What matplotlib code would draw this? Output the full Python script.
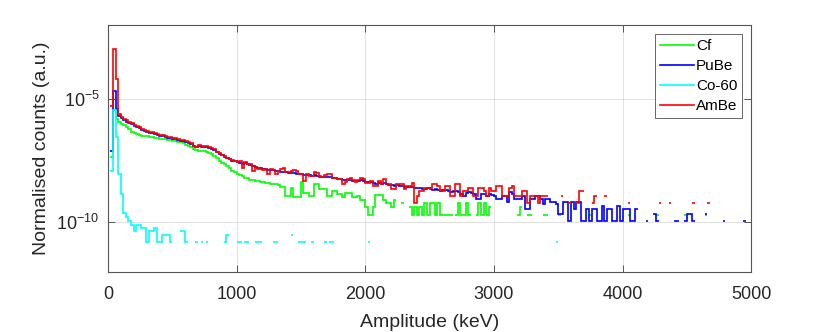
import numpy as np
import matplotlib
matplotlib.use('Agg')
import matplotlib.pyplot as plt

nan = np.nan

# amplitude bins (keV), 20 keV wide
bin_edges = np.arange(0, 5001, 20)

# log10 of normalised counts per bin, nan = empty bin
cf_log = [
    nan, -7.37, -5.46, -5.8, -5.94, -6.0, -6.08, -6.15, -6.24, -6.33,
    -6.4, -6.44, -6.46, -6.49, -6.5, -6.52, -6.54, -6.56, -6.57, -6.59,
    -6.61, -6.63, -6.64, -6.66, -6.68, -6.7, -6.72, -6.74, -6.76, -6.78,
    -6.85, -6.9, -6.96, -7.02, -7.08, -7.11, -7.12, -7.13, -7.15, -7.2,
    -7.22, -7.3, -7.38, -7.52, -7.6, -7.65, -7.72, -7.8, -7.92, -7.98,
    -8.05, -8.08, -8.12, -8.19, -8.19, -8.28, -8.3, -8.32, -8.32, -8.36,
    -8.36, -8.42, -8.42, -8.46, -8.46, -8.46, -8.48, -8.55, -8.55, -8.93,
    -8.93, -8.59, -8.99, -8.99, -8.99, -8.36, -8.79, -8.79, -8.93, -8.93,
    -8.46, -8.46, -8.66, -8.66, -8.66, -8.93, -8.93, -8.73, -8.73, -8.86,
    -8.86, -8.99, -8.79, -8.79, -8.79, -8.99, -8.99, -8.93, -9.08, -9.08,
    -9.38, -9.68, -9.68, -9.38, -8.9, -8.9, -8.9, -9.08, -9.2, -9.2,
    -9.38, -9.08, nan, nan, -9.2, nan, nan, -9.38, -9.68, -9.38,
    -9.68, -9.38, -9.68, -9.2, -9.68, -9.2, -9.2, -9.68, -9.2, -9.68,
    -9.68, -9.68, -9.68, -9.68, nan, -9.68, -9.2, -9.68, -9.68, -9.2,
    -9.68, nan, nan, -9.68, -9.2, -9.68, -9.2, -9.68, -9.38, nan,
    nan, nan, nan, nan, nan, nan, nan, nan, nan, -9.68,
    -9.38, nan, nan, -9.68, -9.68, nan, nan, nan, nan, -9.68,
    -9.68, nan, nan, nan, nan, -9.68, nan, nan, nan, nan,
    nan, nan, nan, nan, nan, nan, nan, -9.68, nan, nan,
    nan, nan, nan, nan, nan, nan, nan, nan, nan, nan,
    nan, nan, -9.68, nan, nan, nan, nan, nan, nan, nan,
    nan, nan, nan, -9.68, nan, nan, nan, nan, nan, nan,
    nan, nan, nan, nan, -9.68, nan, nan, nan, nan, nan,
    nan, nan, -9.68, nan, nan, nan, nan, nan, nan, nan,
    nan, nan, nan, nan, nan, nan, nan, nan, nan, nan,
]

pube_log = [
    nan, -7.1, -4.69, -5.43, -5.68, -5.78, -5.85, -5.92, -5.98, -6.04,
    -6.1, -6.15, -6.2, -6.25, -6.29, -6.33, -6.37, -6.4, -6.43, -6.46,
    -6.5, -6.52, -6.55, -6.57, -6.6, -6.62, -6.64, -6.66, -6.69, -6.72,
    -6.76, -6.79, -6.83, -6.9, -6.93, -6.91, -6.93, -6.95, -6.93, -6.98,
    -7.02, -7.08, -7.17, -7.23, -7.29, -7.35, -7.4, -7.45, -7.5, -7.53,
    -7.56, -7.58, -7.62, -7.6, -7.65, -7.68, -7.72, -7.74, -7.78, -7.8,
    -7.83, -7.84, -7.88, -7.88, -7.9, -7.93, -7.94, -7.95, -7.96, -7.98,
    -8.0, -8.0, -8.02, -8.03, -8.05, -8.06, -8.08, -8.08, -8.1, -8.12,
    -8.1, -8.13, -8.15, -8.16, -8.17, -8.15, -8.18, -8.2, -8.22, -8.23,
    -8.25, -8.27, -8.28, -8.28, -8.3, -8.31, -8.33, -8.32, -8.3, -8.34,
    -8.36, -8.38, -8.37, -8.42, -8.44, -8.4, -8.45, -8.42, -8.46, -8.48,
    -8.5, -8.52, -8.5, -8.52, -8.54, -8.56, -8.55, -8.58, -8.56, -8.6,
    -8.62, -8.6, -8.64, -8.66, -8.62, -8.66, -8.68, -8.64, -8.68, -8.72,
    -8.7, -8.68, -8.74, -8.76, -8.72, -8.74, -8.78, -8.86, -8.94, -8.8,
    -8.78, -8.82, -8.86, -9.04, -9.04, -8.86, -8.86, -8.94, -8.86, -8.9,
    -8.94, -9.04, -9.04, -8.94, -8.94, -9.16, -8.76, -8.86, -9.04, -9.04,
    -9.04, -8.94, -9.46, -9.46, -9.04, -9.04, -8.94, -8.94, -9.04, -9.24,
    -9.04, -9.04, -9.16, -9.16, -9.24, -9.64, -9.64, -9.16, -9.16, -9.94,
    -9.16, -9.46, -9.16, -9.16, -9.94, -9.94, -9.46, -9.94, -9.46, -9.46,
    -9.94, -9.94, -9.34, -9.94, -9.46, -9.46, -9.94, -9.94, -9.34, -9.94,
    -9.46, -9.46, -9.46, -9.94, -9.94, -9.46, nan, nan, nan, -9.94,
    nan, nan, -9.64, -9.94, nan, nan, nan, nan, nan, nan,
    -9.94, -9.94, nan, nan, -9.94, -9.64, -9.64, -9.94, nan, nan,
    nan, nan, -9.64, nan, nan, nan, nan, nan, nan, -9.94,
    nan, nan, nan, nan, nan, nan, nan, -9.94, nan, nan,
]

co60_log = [
    nan, -7.92, -5.46, -6.56, -8.05, -8.86, -9.6, -9.77, -9.94, -10.11,
    -10.33, -10.11, -10.11, -10.21, -10.21, -10.81, -10.33, -10.33, -10.21, -10.81,
    -10.81, -10.51, -10.51, -10.51, -10.81, nan, nan, nan, -10.33, -10.33,
    -10.81, nan, nan, nan, -10.81, nan, -10.81, nan, -10.81, nan,
    nan, nan, nan, nan, nan, -10.81, -10.51, nan, nan, nan,
    -10.81, -10.81, nan, -10.81, -10.81, nan, nan, -10.81, -10.81, -10.81,
    nan, nan, nan, nan, -10.81, -10.81, nan, nan, nan, nan,
    nan, -10.51, nan, nan, -10.81, -10.81, -10.81, nan, nan, -10.81,
    nan, nan, nan, nan, -10.81, nan, -10.81, -10.81, nan, nan,
    nan, nan, nan, nan, nan, nan, nan, nan, nan, nan,
    nan, -10.81, nan, nan, nan, nan, nan, nan, nan, nan,
    nan, nan, nan, nan, nan, nan, nan, nan, nan, nan,
    nan, nan, nan, nan, nan, nan, nan, nan, nan, nan,
    nan, nan, nan, nan, nan, nan, nan, nan, nan, nan,
    nan, nan, nan, nan, nan, nan, nan, nan, nan, nan,
    nan, nan, nan, nan, nan, nan, nan, nan, nan, nan,
    nan, nan, nan, nan, nan, nan, nan, nan, nan, nan,
    nan, nan, nan, nan, -10.81, nan, nan, nan, nan, nan,
    nan, nan, nan, nan, nan, nan, nan, nan, nan, nan,
    nan, nan, nan, nan, nan, nan, nan, nan, nan, nan,
    nan, nan, nan, nan, nan, nan, nan, nan, nan, nan,
    nan, nan, nan, nan, nan, nan, nan, nan, nan, nan,
    nan, nan, nan, nan, nan, nan, nan, nan, nan, nan,
    nan, nan, nan, nan, nan, nan, nan, nan, nan, nan,
    nan, nan, nan, nan, nan, nan, nan, nan, nan, nan,
]

ambe_log = [
    nan, -5.3, -2.97, -4.22, -5.63, -5.73, -5.8, -5.87, -5.93, -5.99,
    -6.05, -6.1, -6.16, -6.21, -6.25, -6.29, -6.33, -6.36, -6.39, -6.42,
    -6.46, -6.48, -6.5, -6.53, -6.56, -6.58, -6.6, -6.62, -6.65, -6.68,
    -6.72, -6.75, -6.79, -6.9, -6.93, -6.88, -6.9, -6.92, -6.89, -6.95,
    -6.98, -7.05, -7.15, -7.2, -7.26, -7.32, -7.38, -7.43, -7.48, -7.5,
    -7.55, -7.52, -7.78, -7.57, -7.65, -7.65, -7.92, -7.75, -7.85, -7.85,
    -7.88, -7.85, -8.05, -7.85, -7.88, -8.05, -7.92, -7.85, -7.8, -7.96,
    -7.98, -7.92, -7.9, -7.92, -8.05, -8.05, -8.32, -8.05, -8.12, -8.12,
    -7.95, -8.0, -8.12, -8.17, -8.1, -8.05, -8.05, -8.22, -8.2, -8.25,
    -8.25, -8.46, -8.35, -8.25, -8.22, -8.3, -8.37, -8.3, -8.19, -8.25,
    -8.39, -8.39, -8.32, -8.54, -8.54, -8.32, -8.46, -8.25, -8.46, -8.46,
    -8.66, -8.66, -8.46, -8.46, -8.46, -8.66, -8.54, -8.54, -8.39, -9.22,
    -8.92, -8.74, -8.74, -8.62, -8.62, -8.62, -8.46, -8.44, -8.52, -8.74,
    -8.74, -8.52, -8.52, -8.92, -8.92, -8.44, -8.44, -8.92, -8.74, -8.74,
    -8.62, -8.62, -8.92, -8.92, -8.62, -8.62, -8.74, -8.92, -8.62, -8.74,
    -8.74, -8.52, -8.52, -8.92, -8.92, -8.92, -8.62, -8.52, -8.92, -8.92,
    -8.92, -8.74, -8.74, -9.22, -8.92, -8.92, -8.92, -9.22, -8.92, -8.92,
    -8.92, nan, nan, nan, nan, nan, -8.92, nan, nan, -9.22,
    nan, nan, -9.22, -8.74, -8.74, nan, nan, nan, -9.22, -8.92,
    nan, nan, nan, -8.92, nan, nan, nan, nan, nan, nan,
    nan, nan, -9.22, nan, nan, nan, nan, nan, nan, nan,
    nan, nan, nan, nan, -9.22, nan, nan, nan, -9.22, nan,
    nan, nan, nan, nan, nan, nan, nan, -9.22, nan, nan,
    nan, nan, nan, -9.22, nan, nan, nan, nan, nan, nan,
    nan, nan, nan, nan, nan, nan, nan, nan, nan, nan,
]

series_names = ['Cf', 'PuBe', 'Co-60', 'AmBe']
series_colors = ['#00ff00', '#0000ff', '#00ffff', '#ff0000']
series_data = [cf_log, pube_log, co60_log, ambe_log]

plt.rcParams['font.family'] = ['Liberation Sans', 'DejaVu Sans']
plt.rcParams['mathtext.fontset'] = 'custom'
plt.rcParams['mathtext.rm'] = 'Liberation Sans'
plt.rcParams['mathtext.it'] = 'Liberation Sans:italic'

fig = plt.figure(figsize=(8.3, 3.32), dpi=100)
ax = fig.add_axes([0.13, 0.181, 0.775, 0.745])

for vals, col, name in zip(series_data, series_colors, series_names):
    ax.stairs(10.0 ** np.array(vals), bin_edges, baseline=None,
              color=col, linewidth=1.2, label=name)

ax.set_yscale('log')
ax.set_xlim(0, 5000)
ax.set_ylim(1e-12, 1e-2)
ax.set_xticks([0, 1000, 2000, 3000, 4000, 5000])
ax.set_yticks([1e-10, 1e-5])
ax.minorticks_off()

ax.grid(True, color='#262626', alpha=0.13, linewidth=0.7)
ax.set_axisbelow(True)
for sp in ax.spines.values():
    sp.set_color('#555555')
    sp.set_linewidth(0.8)
ax.tick_params(direction='in', top=True, right=True, length=5, width=0.7,
               color='#555555', labelcolor='#262626', labelsize=13)
ax.tick_params(axis='x', pad=10)
ax.tick_params(axis='y', pad=6)

ax.set_xlabel('Amplitude (keV)', fontsize=14, color='#262626', labelpad=8)
ax.set_ylabel('Normalised counts (a.u.)', fontsize=14, color='#262626', labelpad=5)

leg = ax.legend(loc='upper right', bbox_to_anchor=(0.9855, 0.96), borderaxespad=0,
                fancybox=False, framealpha=1, edgecolor='#666666', fontsize=11,
                handlelength=2.2, handletextpad=0.15, borderpad=0.3, labelspacing=0.4)
leg.get_frame().set_linewidth(0.7)

fig.savefig('out.png', dpi=100)
